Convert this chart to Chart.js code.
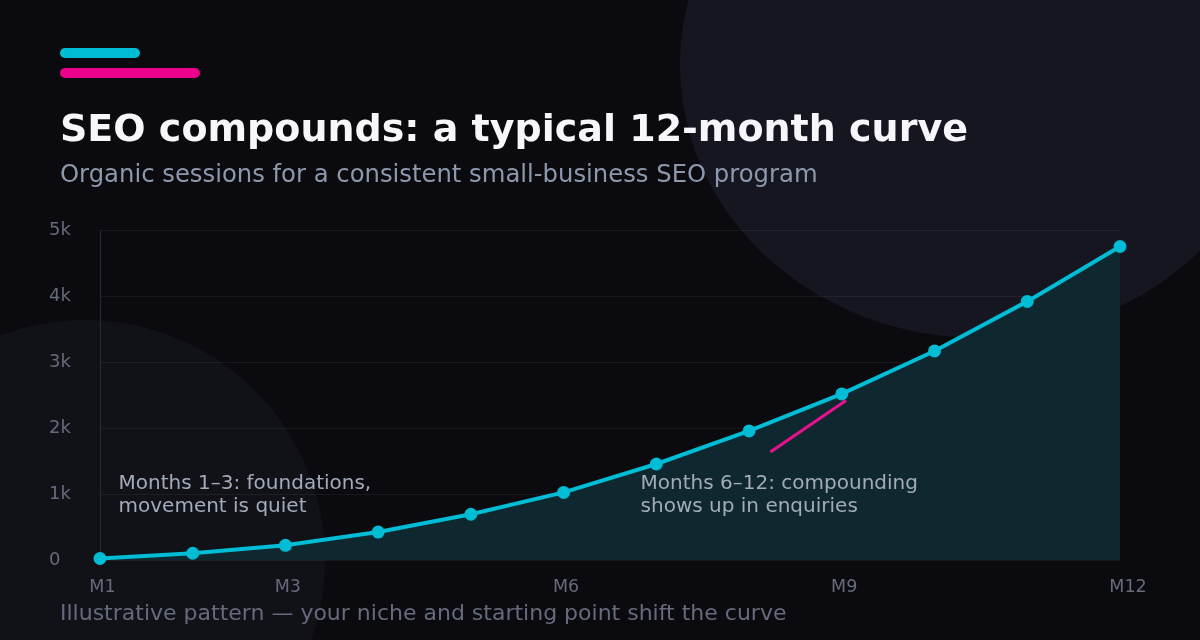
<!DOCTYPE html>
<html>
<head>
<meta charset="utf-8">
<script src="https://cdn.jsdelivr.net/npm/chart.js@4.4.1/dist/chart.umd.min.js"></script>
<style>
  html, body { margin:0; padding:0; background:#0b0b0f; width:1200px; height:640px; overflow:hidden; }
  #wrap { position:relative; width:1200px; height:640px; overflow:hidden; font-family:"DejaVu Sans", sans-serif; }
  .blob-tr { position:absolute; left:680px; top:-208px; width:600px; height:546px; border-radius:50%; background:#161621; }
  .blob-bl { position:absolute; left:-155px; top:320px; width:480px; height:480px; border-radius:50%; background:#111118; }
  .bar { position:absolute; left:60px; height:10px; border-radius:5px; }
  .bar1 { top:48px; width:80px; background:#00bcd4; }
  .bar2 { top:68px; width:140px; background:#ec008c; }
  .txt { position:absolute; left:60px; white-space:nowrap; line-height:1; }
  #title { top:108.8px; font-size:38px; font-weight:bold; color:#f7f7fb; }
  #subtitle { top:162.2px; font-size:24.3px; color:#8d98ad; }
  #foot { top:602.1px; font-size:22px; color:#656a7c; }
  canvas { position:absolute; left:0; top:0; }
</style>
</head>
<body>
<div id="wrap">
  <div class="blob-tr"></div>
  <div class="blob-bl"></div>
  <canvas id="c" width="1200" height="640"></canvas>
  <div class="bar bar1"></div>
  <div class="bar bar2"></div>
  <div class="txt" id="title">SEO compounds: a typical 12-month curve</div>
  <div class="txt" id="subtitle">Organic sessions for a consistent small-business SEO program</div>
  <div class="txt" id="foot">Illustrative pattern — your niche and starting point shift the curve</div>
</div>
<script>
// ---- data ----
const months = [1, 2, 3, 4, 5, 6, 7, 8, 9, 10, 11, 12];
const sessions = [30, 110, 230, 430, 700, 1030, 1460, 1960, 2520, 3170, 3920, 4750];
const xTickMonths = [1, 3, 6, 9, 12];
const xTickPrefix = 'M';
const yTickValues = [0, 1000, 2000, 3000, 4000, 5000];
const yTickLabels = ['0', '1k', '2k', '3k', '4k', '5k'];
const noteEarly = ['Months 1–3: foundations,', 'movement is quiet'];
const noteEarlyAt = { x: 1.2, y: 1080 };
const noteLate = ['Months 6–12: compounding', 'shows up in enquiries'];
const noteLateAt = { x: 6.83, y: 1080 };
const pointerFrom = { x: 8.23, y: 1640 };
const pointerTo = { x: 9.045, y: 2420 };

Chart.defaults.font.family = '"DejaVu Sans", sans-serif';

const annotations = {
  id: 'annotations',
  afterDatasetsDraw(chart) {
    const { ctx, scales: { x, y } } = chart;
    ctx.save();
    ctx.strokeStyle = '#e8128f';
    ctx.lineWidth = 3;
    ctx.beginPath();
    ctx.moveTo(x.getPixelForValue(pointerFrom.x), y.getPixelForValue(pointerFrom.y));
    ctx.lineTo(x.getPixelForValue(pointerTo.x), y.getPixelForValue(pointerTo.y));
    ctx.stroke();
    ctx.font = '20px "DejaVu Sans", sans-serif';
    ctx.fillStyle = '#a3abbb';
    ctx.textAlign = 'left';
    ctx.textBaseline = 'alphabetic';
    [[noteEarly, noteEarlyAt], [noteLate, noteLateAt]].forEach(([lines, at]) => {
      const px = x.getPixelForValue(at.x);
      const py = y.getPixelForValue(at.y);
      lines.forEach((t, i) => ctx.fillText(t, px, py + i * 23));
    });
    ctx.restore();
  }
};

new Chart(document.getElementById('c'), {
  type: 'line',
  data: {
    datasets: [{
      data: months.map((m, i) => ({ x: m, y: sessions[i] })),
      borderColor: '#00bcd4',
      borderWidth: 4,
      pointRadius: 6.5,
      pointBackgroundColor: '#00bcd4',
      pointBorderWidth: 0,
      fill: 'origin',
      backgroundColor: '#0f272e',
      tension: 0,
      clip: false
    }]
  },
  options: {
    responsive: false,
    animation: false,
    devicePixelRatio: 1,
    layout: { padding: { left: 49, right: 80, top: 230, bottom: 0 } },
    plugins: { legend: { display: false }, tooltip: { enabled: false } },
    scales: {
      x: {
        type: 'linear',
        min: 1,
        max: 12,
        afterBuildTicks: (s) => { s.ticks = xTickMonths.map(v => ({ value: v })); },
        afterFit: (s) => { s.height = 79.5; },
        grid: { display: false, drawTicks: false },
        border: { display: false },
        ticks: {
          align: 'start',
          labelOffset: -10.7,
          padding: 16,
          color: '#666b7c',
          font: { size: 17.5 },
          callback: (v) => xTickPrefix + v
        }
      },
      y: {
        min: 0,
        max: 5000,
        afterBuildTicks: (s) => { s.ticks = yTickValues.map(v => ({ value: v })); },
        afterFit: (s) => { s.width = 51; },
        grid: { color: 'rgba(255,255,255,0.055)', lineWidth: 1, drawTicks: false },
        border: { display: true, color: '#2a2a36', width: 1 },
        ticks: {
          crossAlign: 'far',
          padding: 10,
          color: '#666b7c',
          font: { size: 18 },
          callback: (v) => yTickLabels[yTickValues.indexOf(v)]
        }
      }
    }
  },
  plugins: [annotations]
});
</script>
</body>
</html>
